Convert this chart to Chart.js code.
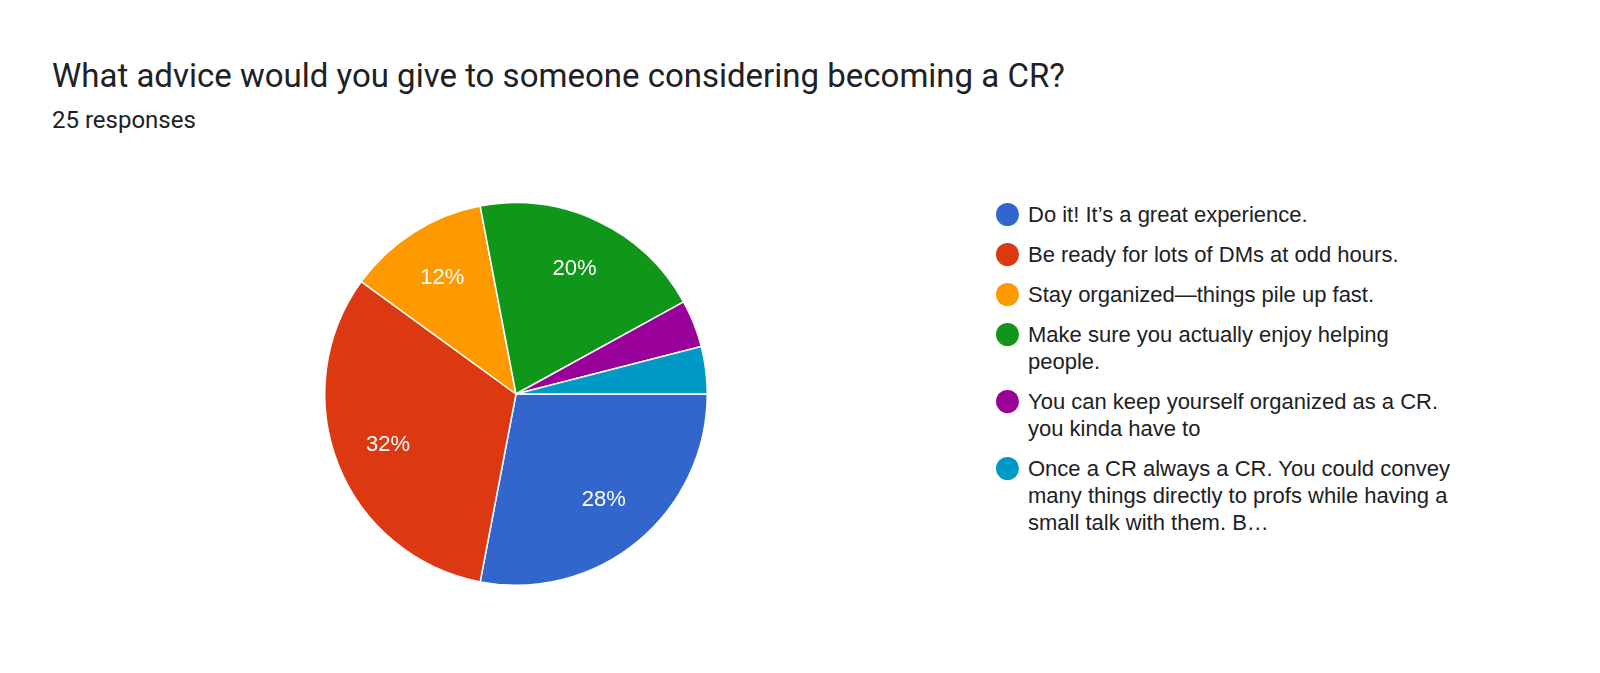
<!DOCTYPE html>
<html>
<head>
<meta charset="utf-8">
<script src="https://cdn.jsdelivr.net/npm/chart.js@4"></script>
<style>
  body { margin: 0; width: 1600px; height: 673px; background: #fff; font-family: Roboto, "Liberation Sans", Arial, sans-serif; position: relative; overflow: hidden; }
  #title { position: absolute; left: 52px; top: 56px; font-size: 33px; color: #202124; }
  #sub { position: absolute; left: 52px; top: 106px; font-size: 24px; color: #202124; }
  #pieBox { position: absolute; left: 316px; top: 194px; width: 400px; height: 400px; }
  #legend { position: absolute; left: 996px; top: 201px; width: 465px; font-family: "Liberation Sans", Arial, sans-serif; font-size: 22px; line-height: 27px; color: #202124; }
  .item { position: relative; padding-left: 32px; margin-bottom: 13px; }
  .dot { position: absolute; left: 0; top: 2px; width: 23px; height: 23px; border-radius: 50%; }
</style>
</head>
<body>
<div id="title">What advice would you give to someone considering becoming a CR?</div>
<div id="sub">25 responses</div>
<div id="pieBox"><canvas id="pie"></canvas></div>
<div id="legend"></div>
<script>
// Answers and response counts (25 total)
const labels = [
    'Do it! It\u2019s a great experience.',
    'Be ready for lots of DMs at odd hours.',
    'Stay organized\u2014things pile up fast.',
    'Make sure you actually enjoy helping people.',
    'You can keep yourself organized as a CR. you kinda have to',
    'Once a CR always a CR. You could convey many things directly to profs while having a small talk with them. B\u2026'
];
const counts = [7, 8, 3, 5, 1, 1];
const colors = ['#3366cc', '#dc3912', '#ff9900', '#109618', '#990099', '#0099c6'];

// Legend
const legend = document.getElementById('legend');
labels.forEach((l, i) => {
    const d = document.createElement('div');
    d.className = 'item';
    d.innerHTML = `<span class="dot" style="background:${colors[i]}"></span>${l}`;
    legend.appendChild(d);
});

// Percent labels inside slices
const pctLabels = {
    id: 'pctLabels',
    afterDatasetsDraw(chart) {
        const ctx = chart.ctx;
        const total = counts.reduce((a, b) => a + b, 0);
        const meta = chart.getDatasetMeta(0);
        ctx.save();
        ctx.fillStyle = '#fff';
        ctx.font = '22px "Liberation Sans", Arial, sans-serif';
        ctx.textAlign = 'center';
        ctx.textBaseline = 'middle';
        meta.data.forEach((arc, i) => {
            const pct = counts[i] / total * 100;
            if (pct < 5) return;
            const mid = (arc.startAngle + arc.endAngle) / 2;
            const r = arc.outerRadius * 0.72;
            ctx.fillText(Math.round(pct) + '%', arc.x + Math.cos(mid) * r, arc.y + Math.sin(mid) * r);
        });
        ctx.restore();
    }
};

new Chart(document.getElementById('pie'), {
    type: 'pie',
    data: {
        labels: labels,
        datasets: [{
            data: counts,
            backgroundColor: colors,
            borderColor: '#fff',
            borderWidth: 1.5
        }]
    },
    options: {
        responsive: true,
        maintainAspectRatio: false,
        animation: false,
        rotation: 90,
        layout: { padding: 8 },
        plugins: { legend: { display: false }, tooltip: { enabled: false } }
    },
    plugins: [pctLabels]
});
</script>
</body>
</html>
